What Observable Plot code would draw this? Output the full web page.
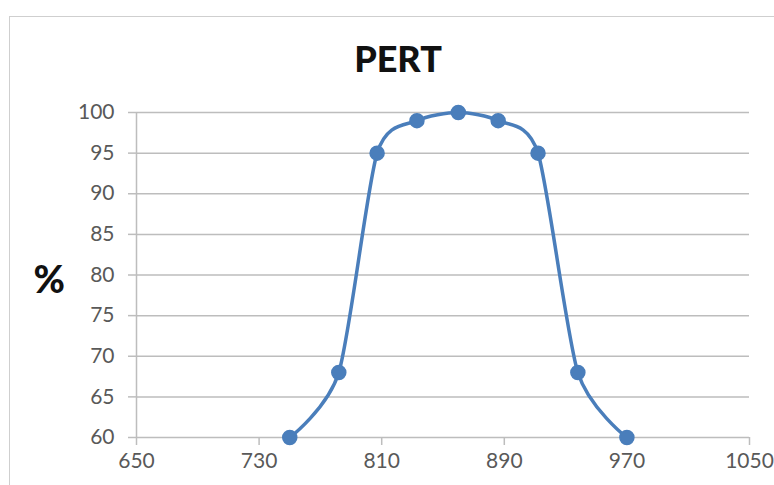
<!DOCTYPE html>
<html>
<head>
<meta charset="utf-8">
<script src="https://cdn.jsdelivr.net/npm/d3@7"></script>
<script src="https://cdn.jsdelivr.net/npm/@observablehq/plot@0.6"></script>
<style>
  html, body { margin: 0; padding: 0; background: #fff; }
  #wrap { position: relative; width: 774px; height: 485px; overflow: hidden; background: #fff; }
  #frame { position: absolute; left: 9px; top: 16px; width: 800px; height: 520px; border: 1.5px solid #cfcfcf; box-sizing: border-box; }
  #title { position: absolute; left: 10px; width: 776px; top: 40px; line-height: 1; text-align: center; font-family: Lato, "Open Sans", sans-serif; font-weight: 900; font-size: 36px; color: #111; }
  #chart { position: absolute; left: 0; top: 0; }
</style>
</head>
<body>
<div id="wrap">
  <div id="frame"></div>
  <div id="title">PERT</div>
  <div id="chart"></div>
</div>
<script>
const xValues = [750, 782, 807, 833, 860, 886, 912, 938, 970];
const yValues = [60, 68, 95, 99, 100, 99, 95, 68, 60];
const xTicks = [650, 730, 810, 890, 970, 1050];
const yTicks = [60, 65, 70, 75, 80, 85, 90, 95, 100];
const yLabel = "%";

const data = xValues.map((x, i) => ({x, y: yValues[i]}));
const blue = "#4a7ebb";
const grid = "#bdbdbd";
const font = "Lato, 'Open Sans', sans-serif";

const plot = Plot.plot({
  width: 774,
  height: 485,
  marginLeft: 136,
  marginRight: 25,
  marginTop: 112,
  marginBottom: 48,
  style: {fontFamily: font, fontSize: "21px", color: "#595959", background: "transparent"},
  x: {domain: [650, 1050], ticks: xTicks, tickFormat: d => String(d)},
  y: {domain: [60, 100], ticks: yTicks, tickFormat: d => String(d)},
  marks: [
    Plot.ruleY(yTicks, {stroke: grid, strokeWidth: 1.5}),
    Plot.ruleX([650], {stroke: grid, strokeWidth: 1.5}),
    Plot.axisY({ticks: yTicks, tickFormat: d => String(d), tickSize: 8, tickPadding: 14, stroke: grid, strokeWidth: 1.5, fill: "#595959", label: null}),
    Plot.axisX({ticks: xTicks, tickFormat: d => String(d), tickSize: 8, tickPadding: 8, stroke: grid, strokeWidth: 1.5, fill: "#595959", label: null}),
    Plot.text([yLabel], {frameAnchor: "left", dx: -103, dy: 6, fontSize: 38, fontWeight: 900, fill: "#111", fontFamily: font}),
    Plot.line(data, {x: "x", y: "y", curve: "cardinal", tension: 0.25, stroke: blue, strokeWidth: 3.5}),
    Plot.dot(data, {x: "x", y: "y", r: 7, fill: blue, stroke: blue})
  ]
});
document.getElementById("chart").appendChild(plot);
</script>
</body>
</html>
